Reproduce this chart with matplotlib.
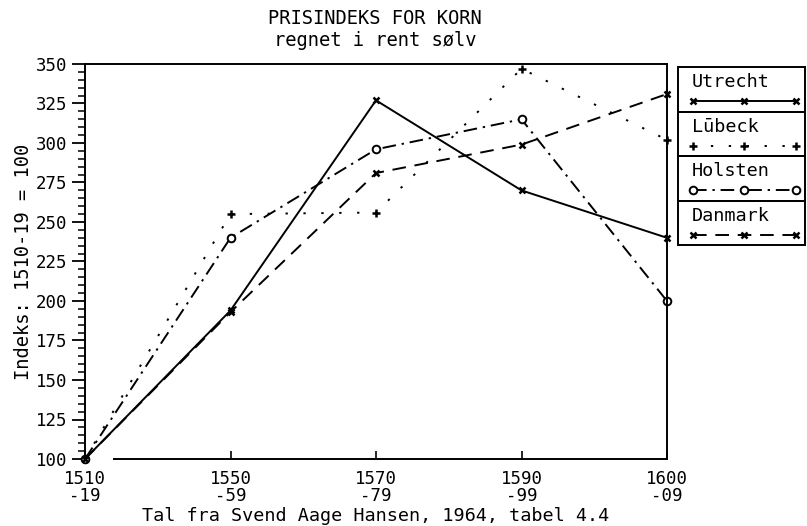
import matplotlib
matplotlib.use("Agg")
import matplotlib.pyplot as plt
from matplotlib.patches import Rectangle
from matplotlib.ticker import MultipleLocator

plt.rcParams['font.family'] = ['DejaVu Sans Mono']

# Prisindeks for korn, 1510-19 = 100
perioder = ["1510\n-19", "1550\n-59", "1570\n-79", "1590\n-99", "1600\n-09"]
utrecht = [100, 194, 327, 270, 240]
lubeck = [100, 255, 256, 347, 302]
holsten = [100, 240, 296, 315, 200]
danmark = [100, 193, 281, 299, 331]

navne = ["Utrecht", "Lūbeck", "Holsten", "Danmark"]

stil = [
    dict(ls='-', marker='x', ms=5, mew=1.8, mfc='black'),
    dict(ls=(0, (1.2, 8)), marker='+', ms=6, mew=1.8),
    dict(ls=(0, (7, 3, 1.2, 3)), marker='o', ms=5.5, mew=1.4, mfc='white'),
    dict(ls=(0, (7, 4.5)), marker='x', ms=5, mew=1.8),
]

fig = plt.figure(figsize=(8.07, 5.26), dpi=100)
ax = fig.add_axes([85 / 807, 1 - 459 / 526, (667 - 85) / 807, (459 - 64) / 526])

x = list(range(len(perioder)))
for serie, s in zip([utrecht, lubeck, holsten, danmark], stil):
    ax.plot(x, serie, color='black', lw=1.4, clip_on=False, **s)

ax.set_xlim(0, 4)
ax.set_ylim(100, 350)
ax.set_xticks(x)
ax.set_xticklabels(perioder, fontsize=12.5, linespacing=0.9)
ax.yaxis.set_major_locator(MultipleLocator(25))
ax.yaxis.set_minor_locator(MultipleLocator(5))
ax.tick_params(axis='y', which='major', direction='out', length=9.5, width=1.3, labelsize=12.5, pad=3)
ax.tick_params(axis='y', which='minor', direction='out', length=5, width=1.1)
ax.tick_params(axis='x', direction='in', length=6, width=1.2, pad=8)
for side in ax.spines.values():
    side.set_linewidth(1.4)
ax.spines['bottom'].set_bounds(0.2, 4)

ax.set_ylabel("Indeks: 1510-19 = 100", fontsize=13.5, labelpad=2)
fig.text(0.465, 1 - 19 / 526, "PRISINDEKS FOR KORN", ha='center', va='center', fontsize=13.5)
fig.text(0.465, 1 - 40 / 526, "regnet i rent sølv", ha='center', va='center', fontsize=13.5)
fig.text(0.465, 1 - 516 / 526, "Tal fra Svend Aage Hansen, 1964, tabel 4.4",
         ha='center', va='center', fontsize=13.3)

# signaturforklaring i fire kasser til hoejre
lg = fig.add_axes([678 / 807, 1 - 245 / 526, (805 - 678) / 807, (245 - 67) / 526])
lg.set_xlim(0, 1)
lg.set_ylim(0, 4)
lg.axis('off')
for i, (navn, s) in enumerate(zip(navne, stil)):
    y0 = 3 - i
    lg.add_patch(Rectangle((0, y0), 1, 1, fill=False, lw=1.4, clip_on=False))
    lg.text(0.11, y0 + 0.66, navn, ha='left', va='center', fontsize=13.3)
    lg.plot([0.12, 0.52, 0.93], [y0 + 0.23] * 3, color='black', lw=1.4,
            clip_on=False, **s)

fig.savefig("out.png", dpi=100)
